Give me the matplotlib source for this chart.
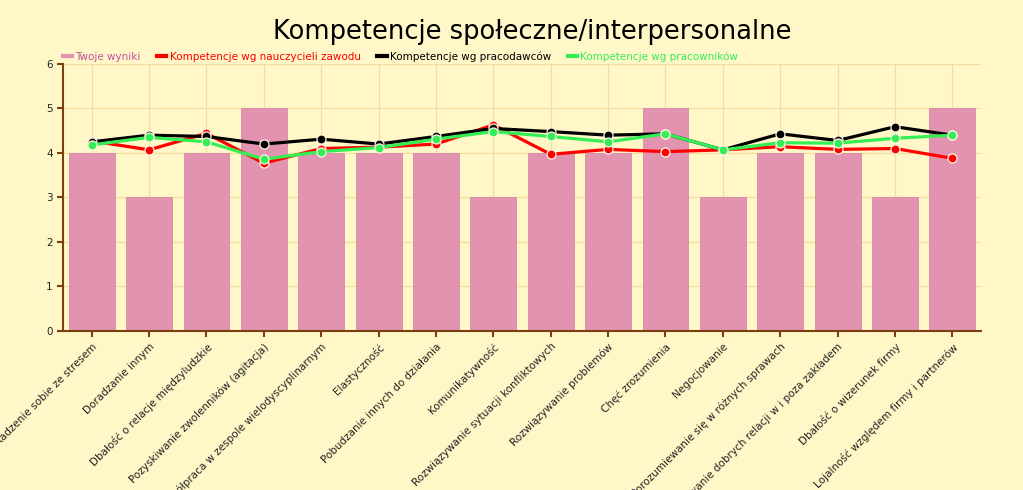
import matplotlib
matplotlib.use("Agg")
import matplotlib.pyplot as plt
import numpy as np

# Chart data:
categories = [
    "Radzenie sobie ze stresem",
    "Doradzanie innym",
    "Dbałość o relacje międzyludzkie",
    "Pozyskiwanie zwolenników (agitacja)",
    "Współpraca w zespole wielodyscyplinarnym",
    "Elastyczność",
    "Pobudzanie innych do działania",
    "Komunikatywność",
    "Rozwiązywanie sytuacji konfliktowych",
    "Rozwiązywanie problemów",
    "Chęć zrozumienia",
    "Negocjowanie",
    "Porozumiewanie się w różnych sprawach",
    "Budowanie dobrych relacji w i poza zakładem",
    "Dbałość o wizerunek firmy",
    "Lojalność względem firmy i partnerów",
]
twoje_wyniki = [4, 3, 4, 5, 4, 4, 4, 3, 4, 4, 5, 3, 4, 4, 3, 5]
nauczyciele = [4.27, 4.07, 4.44, 3.77, 4.10, 4.13, 4.20, 4.63,
               3.97, 4.08, 4.03, 4.07, 4.14, 4.08, 4.10, 3.88]
pracodawcy = [4.25, 4.40, 4.37, 4.20, 4.31, 4.20, 4.37, 4.55,
              4.48, 4.40, 4.43, 4.07, 4.43, 4.28, 4.59, 4.40]
pracownicy = [4.18, 4.35, 4.25, 3.86, 4.03, 4.12, 4.31, 4.48,
              4.37, 4.25, 4.43, 4.07, 4.23, 4.22, 4.33, 4.40]
series_names = ["Twoje wyniki", "Kompetencje wg nauczycieli zawodu",
                "Kompetencje wg pracodawców", "Kompetencje wg pracowników"]

# Style:
bgColor = "#FFF7C8"
gridColor = "#F5DCA0"
axisColor = "#7B3F10"
barColor = "#E293B0"
lineColors = ["#FF0000", "#000000", "#33EE55"]

fig = plt.figure(figsize=(10.23, 4.9), dpi=100, facecolor=bgColor)
ax = fig.add_axes([0.0616, 0.3245, 0.8974, 0.545], facecolor=bgColor)

x = np.arange(len(categories))
ax.bar(x, twoje_wyniki, width=0.8, color=barColor, edgecolor="#D88AA6",
       linewidth=0.6, zorder=2, label=series_names[0])

for vals, col, name in zip([nauczyciele, pracodawcy, pracownicy], lineColors, series_names[1:]):
    ax.plot(x, vals, color=col, linewidth=2.3, marker="o", markersize=6.5,
            markeredgecolor="#FFF5E0", markeredgewidth=0.9, zorder=3, label=name)

ax.set_xlim(-0.5, len(categories) - 0.5)
ax.set_ylim(0, 6)
ax.set_yticks(range(0, 7))
ax.set_xticks(x)
ax.set_xticklabels(categories, rotation=45, ha="right", rotation_mode="anchor",
                   fontsize=7.5, color="#222222")
ax.tick_params(axis="both", colors=axisColor, labelcolor="#222222", labelsize=7.5,
               length=4, width=1.5)
ax.grid(True, color=gridColor, linewidth=0.9, zorder=0)
ax.set_axisbelow(True)

for side in ["top", "right"]:
    ax.spines[side].set_visible(False)
for side in ["left", "bottom"]:
    ax.spines[side].set_color(axisColor)
    ax.spines[side].set_linewidth(1.5)

# Title:
fig.text(0.52, 0.934, "Kompetencje społeczne/interpersonalne", ha="center",
         va="center", fontsize=18.5, color="black")

# Legend with coloured texts:
handles = [plt.Line2D([], [], color=c, linewidth=3)
           for c in [barColor] + lineColors]
leg = fig.legend(handles, series_names, loc="center left", ncol=4,
                 bbox_to_anchor=(0.052, 0.885), frameon=False, fontsize=7.5,
                 handlelength=0.9, handletextpad=0.3, columnspacing=1.6)
for txt, c in zip(leg.get_texts(), ["#C050A0", "#FF0000", "#000000", "#33EE55"]):
    txt.set_color(c)

fig.savefig("out.png", dpi=100, facecolor=bgColor)
